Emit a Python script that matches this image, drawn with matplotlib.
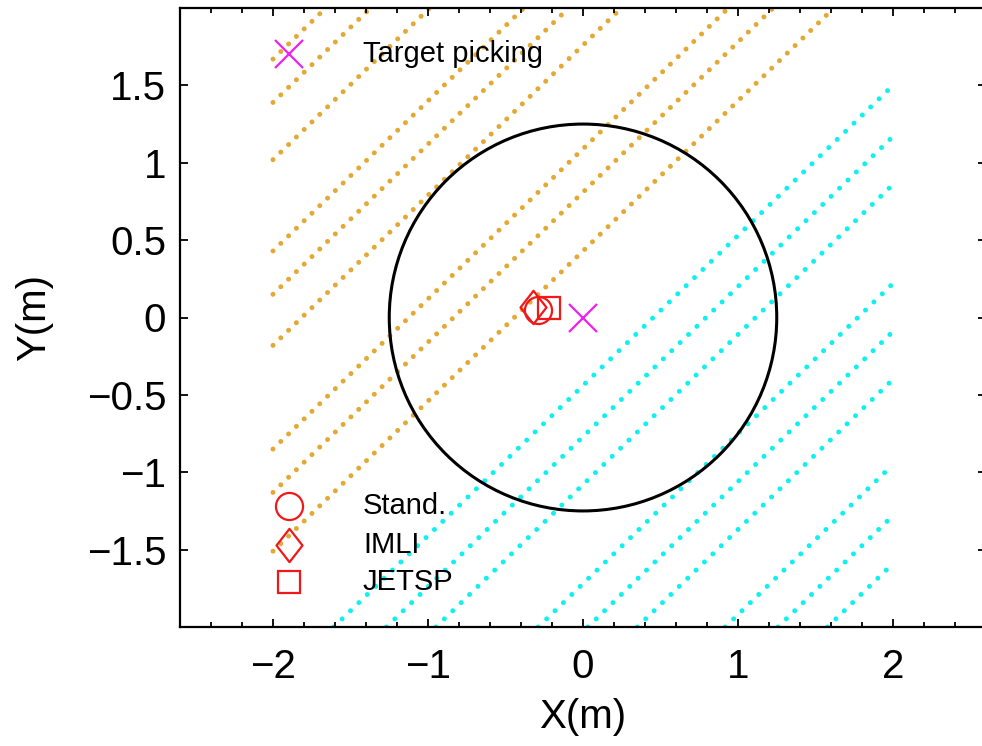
import matplotlib
matplotlib.use('Agg')
import matplotlib.pyplot as plt
import numpy as np
from matplotlib.patches import Circle
from matplotlib.path import Path

plt.rcParams['font.family'] = ['Liberation Sans', 'DejaVu Sans']

# beam lines y = slope*x + c, clipped to the [-2, 2] box
slope = 0.97
orange_c = [3.61, 3.33, 2.96, 2.37, 2.09, 1.76, 1.09, 0.81, 0.43]
cyan_c = [-0.44, -0.77, -1.08, -1.72, -2.03, -2.34, -2.89, -3.22, -3.53]
box = [-2.0, 2.0]

# circle of the field
circle_center = (0.0, 0.0)
circle_radius = 1.25

# estimated positions
target = (0.0, 0.0)
est_names = ['Stand.', 'IMLI', 'JETSP']
est_x = [-0.29, -0.32, -0.22]
est_y = [0.05, 0.065, 0.06]

# legend-like labels inside the axes
key_x = -1.9
key_text_x = -1.42
target_key_y = 1.70
est_key_y = [-1.22, -1.47, -1.71]

x_ticks = [-2, -1, 0, 1, 2]
x_labels = ['\u22122', '\u22121', '0', '1', '2']
y_ticks = [-1.5, -1, -0.5, 0, 0.5, 1, 1.5]
y_labels = ['\u22121.5', '\u22121', '\u22120.5', '0', '0.5', '1', '1.5']

red = '#F01818'
magenta = '#F020F0'
orange = '#E3A935'
cyan = '#10F0F0'

# custom MATLAB-like diamond (taller than wide)
diamond = Path([(0, 1), (0.78, 0), (0, -1), (-0.78, 0), (0, 1)],
               [Path.MOVETO, Path.LINETO, Path.LINETO, Path.LINETO, Path.CLOSEPOLY])
est_markers = ['o', diamond, 's']
est_sizes = [19.5, 24, 16]

plt.rcParams['lines.scale_dashes'] = False

fig = plt.figure(figsize=(9.82, 7.46), dpi=100)
ax = fig.add_axes([180 / 982, 119 / 746, 806 / 982, 619 / 746])


def clip_line(c):
    x0 = max(box[0], (box[0] - c) / slope)
    x1 = min(box[1], (box[1] - c) / slope)
    return [x0, x1], [slope * x0 + c, slope * x1 + c]


for c in orange_c:
    xs, ys = clip_line(c)
    ax.plot(xs, ys, color=orange, lw=3.6, linestyle=(0, (0.01, 7.8)),
            dash_capstyle='round', zorder=1)
for c in cyan_c:
    xs, ys = clip_line(c)
    ax.plot(xs, ys, color=cyan, lw=3.6, linestyle=(0, (0.01, 8.4)),
            dash_capstyle='round', zorder=1)

ax.add_patch(Circle(circle_center, circle_radius, fill=False, ec='black', lw=2.2, zorder=2))

# markers in the field
for i in range(3):
    ax.plot(est_x[i], est_y[i], marker=est_markers[i], ms=est_sizes[i], mfc='none',
            mec=red, mew=1.6, ls='none', zorder=3)
ax.plot(target[0], target[1], marker='x', ms=20, mec=magenta, mew=1.6, ls='none', zorder=3)

# key
ax.plot(key_x, target_key_y, marker='x', ms=20, mec=magenta, mew=1.6, ls='none', zorder=3)
ax.text(key_text_x, target_key_y, 'Target picking', fontsize=21, va='center', ha='left', zorder=4)
for i in range(3):
    ax.plot(key_x, est_key_y[i], marker=est_markers[i], ms=est_sizes[i], mfc='none',
            mec=red, mew=1.6, ls='none', zorder=3)
    ax.text(key_text_x, est_key_y[i], est_names[i], fontsize=21, va='center', ha='left', zorder=4)

ax.set_xlim(-2.6, 2.6)
ax.set_ylim(-2, 2)
ax.set_xticks(x_ticks)
ax.set_xticklabels(x_labels)
ax.set_xticks(np.arange(-2.6, 2.61, 0.2), minor=True)
ax.set_yticks(y_ticks)
ax.set_yticklabels(y_labels)
ax.tick_params(which='both', direction='in', top=True, right=True, width=1.3, labelsize=29)
ax.tick_params(which='major', length=6)
ax.tick_params(which='minor', length=3.5)
ax.tick_params(axis='x', pad=15)
ax.tick_params(axis='y', pad=10)
for s in ax.spines.values():
    s.set_linewidth(1.6)

ax.set_xlabel('X(m)', fontsize=29, labelpad=9)
ax.set_ylabel('Y(m)', fontsize=29, labelpad=24)

fig.savefig('out.png', dpi=100)
